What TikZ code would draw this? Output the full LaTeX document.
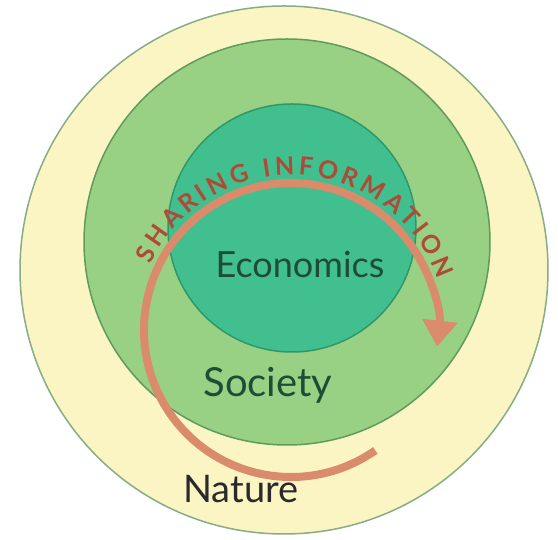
\documentclass[tikz,border=0pt]{standalone}
\usepackage{fontspec}
\setmainfont{Lato}
\usetikzlibrary{arrows.meta,decorations.text}
\definecolor{cream}{HTML}{FBF5C4}
\definecolor{outerline}{HTML}{86AD84}
\definecolor{midfill}{HTML}{98D184}
\definecolor{midline}{HTML}{5F9B5C}
\definecolor{innerfill}{HTML}{42BF8E}
\definecolor{innerline}{HTML}{2F9868}
\definecolor{arrowcol}{HTML}{D98B6B}
\definecolor{infocol}{HTML}{B04A38}
\definecolor{greentext}{HTML}{1E4D36}
\definecolor{darktext}{HTML}{2A2A2A}
\newfontfamily\infofont{Lato Bold}
\begin{document}
\begin{tikzpicture}[x=1pt,y=1pt,
  ring/.style={circle, inner sep=0pt, line width=1.5pt},
  label/.style={anchor=base, inner sep=0pt},
  flow/.style={draw=arrowcol, line width=8pt, -{Triangle[width=34pt,length=26pt]}}]
\useasboundingbox[fill=white] (0,0) rectangle (558,540);
\node[ring, fill=cream, draw=outerline, minimum size=528pt] (nature) at (284,270) {};
\node[ring, fill=midfill, draw=midline, minimum size=406pt] (society) at (287,298) {};
\node[ring, fill=innerfill, draw=innerline, minimum size=248pt] (economics) at (292,312) {};
\coordinate (c) at (291,210);
\draw[flow] ([shift={(-55:147pt)}]c) arc[start angle=-55, end angle=-366.5, radius=147pt];
\path[decorate, decoration={text along path, text align={fit to path},
  text={|\infofont\fontsize{25pt}{25pt}\selectfont\color{infocol}|SHARING INFORMATION}}]
  ([shift={(155:155pt)}]c) arc[start angle=155, end angle=19, radius=155pt];
\node[label, text=greentext, font=\fontsize{36pt}{36pt}\selectfont] (econlabel) at (300,262) {Economics};
\node[label, text=greentext, font=\fontsize{40pt}{40pt}\selectfont] (soclabel) at (268,143) {Society};
\node[label, text=darktext, font=\fontsize{38pt}{38pt}\selectfont] (natlabel) at (241,37) {Nature};
\end{tikzpicture}
\end{document}
